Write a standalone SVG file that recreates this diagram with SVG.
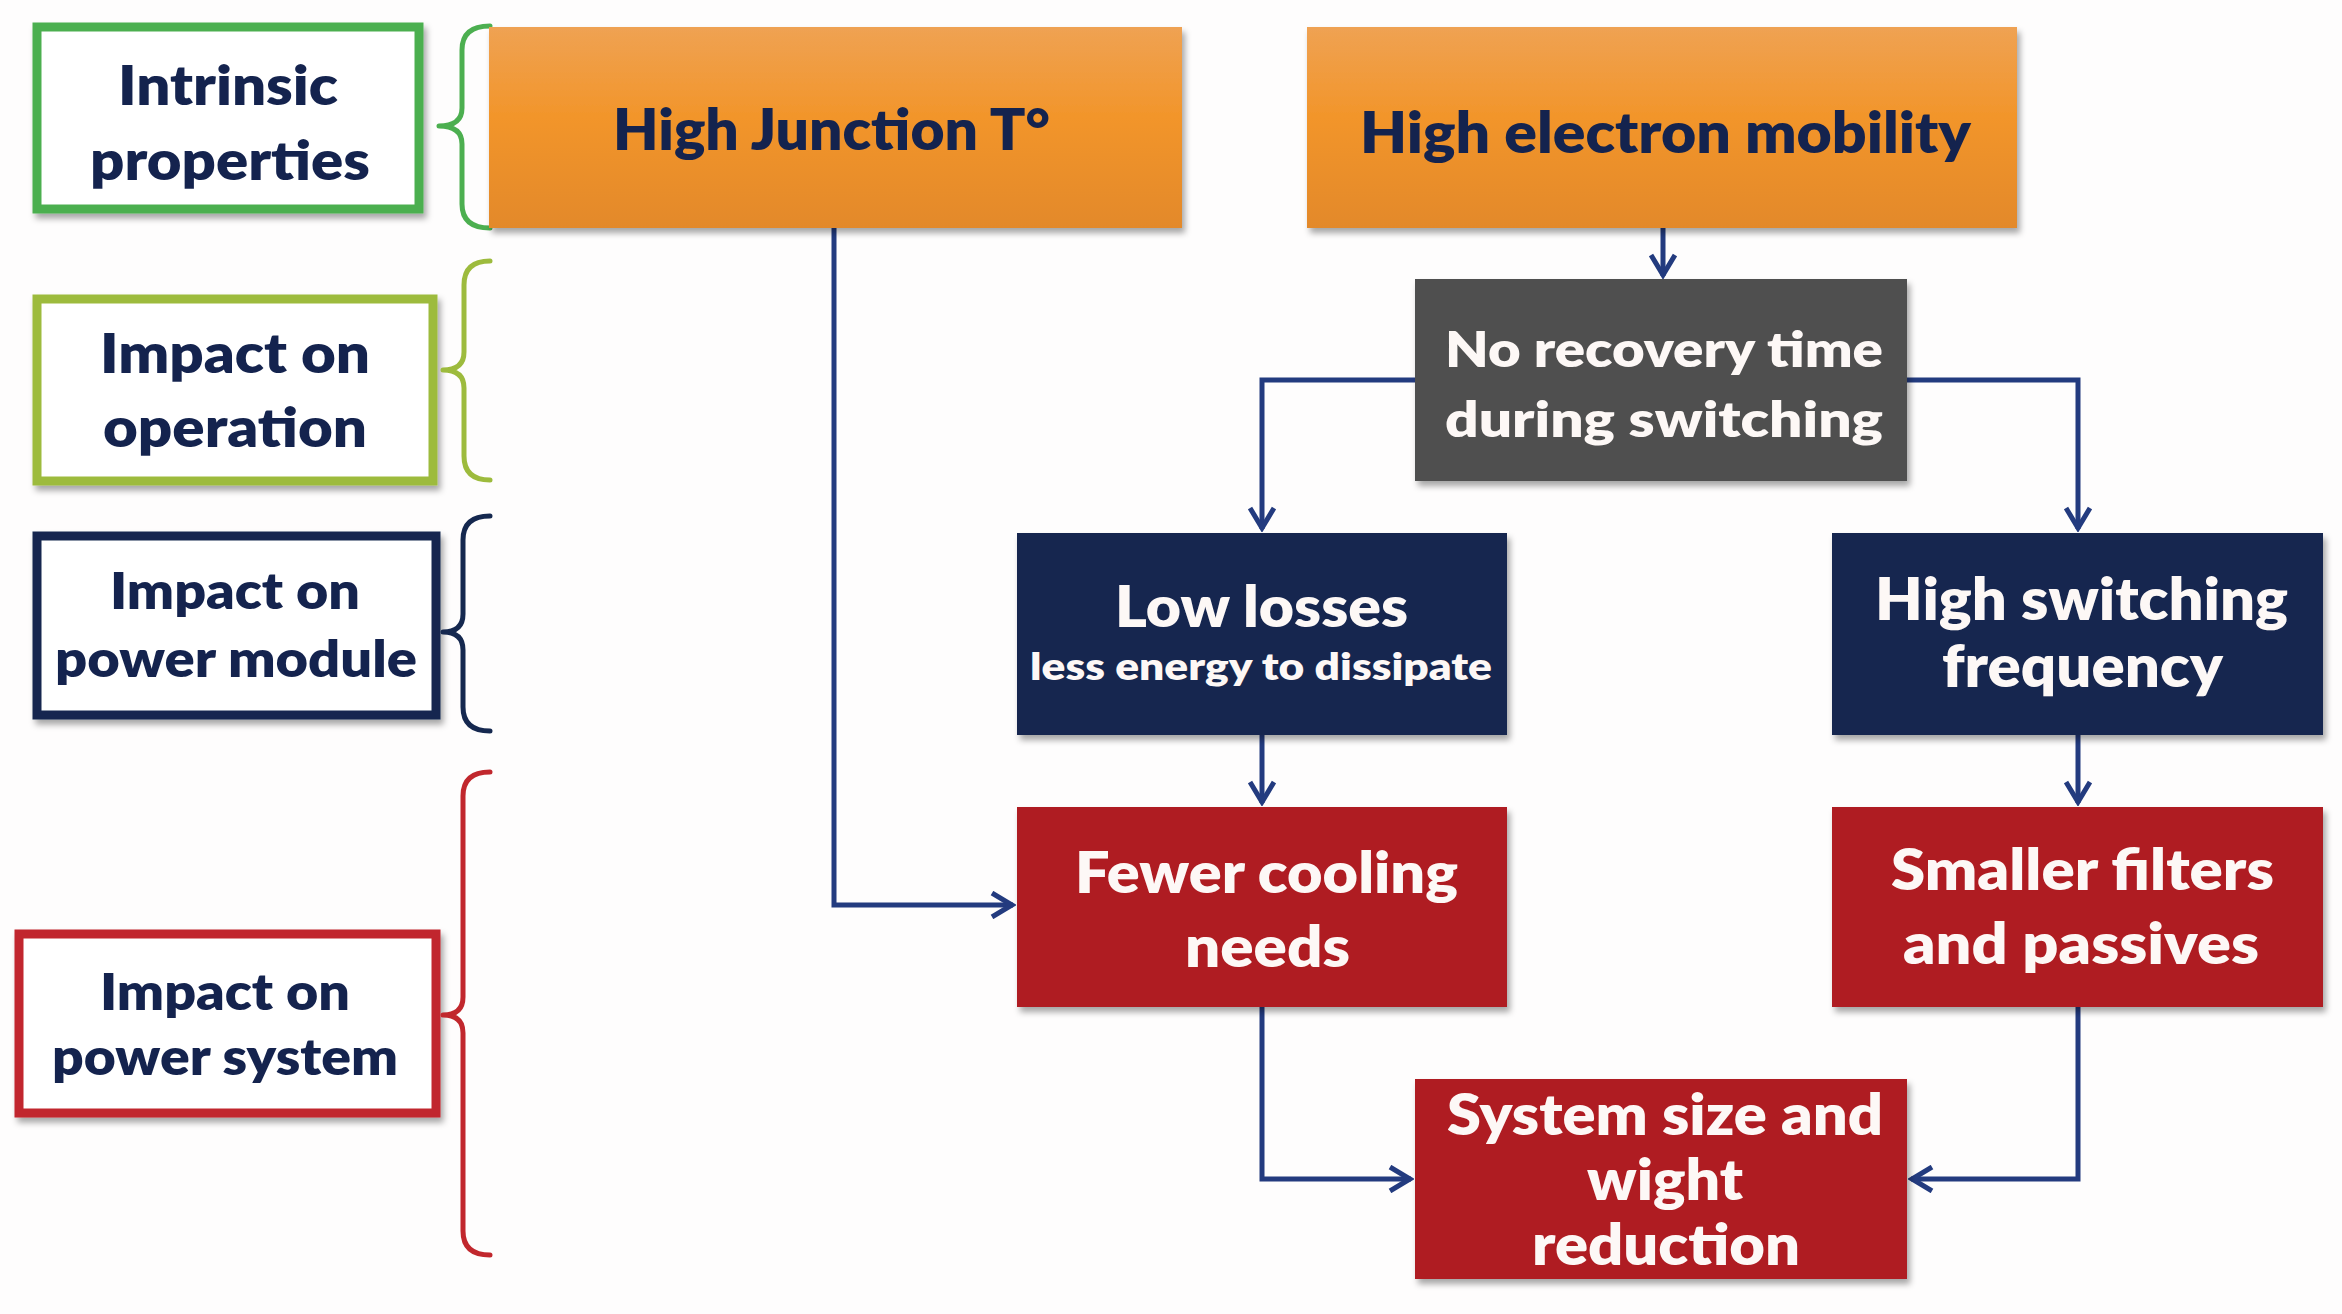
<svg xmlns="http://www.w3.org/2000/svg" width="2342" height="1314" viewBox="0 0 2342 1314">
<defs>
<style>
.t{font-family:Lato,"Open Sans","Liberation Sans",sans-serif;font-weight:800;}
.nv{fill:#14234e;}
.wh{fill:#fdf8f6;}
.leg{fill:#ffffff;stroke-width:9;}
.brace{fill:none;stroke-width:5;stroke-linecap:round;stroke-linejoin:round;}
.con{fill:none;stroke:#233b7f;stroke-width:5;stroke-linejoin:miter;}
</style>
<linearGradient id="og" x1="0" y1="0" x2="0" y2="1">
<stop offset="0" stop-color="#efa253"/>
<stop offset="0.45" stop-color="#f2952a"/>
<stop offset="1" stop-color="#e3892a"/>
</linearGradient>
<filter id="sh" x="-5%" y="-5%" width="112%" height="120%">
<feDropShadow dx="3" dy="5" stdDeviation="3" flood-color="#000" flood-opacity="0.35"/>
</filter>
<marker id="ar" markerUnits="userSpaceOnUse" viewBox="0 0 28 28" markerWidth="28" markerHeight="28" refX="25" refY="14" orient="auto">
<path d="M4,2 L24,14 L4,26" fill="none" stroke="#233b7f" stroke-width="5" stroke-linejoin="miter"/>
</marker>
</defs>
<rect width="2342" height="1314" fill="#fefdfd"/>

<g id="connectors">
<path class="con" d="M834,228 L834,905 L1013,905" marker-end="url(#ar)"/>
<path class="con" d="M1663,228 L1663,276" marker-end="url(#ar)"/>
<path class="con" d="M1415,380 L1262,380 L1262,529" marker-end="url(#ar)"/>
<path class="con" d="M1907,380 L2078,380 L2078,529" marker-end="url(#ar)"/>
<path class="con" d="M1262,735 L1262,803" marker-end="url(#ar)"/>
<path class="con" d="M2078,735 L2078,803" marker-end="url(#ar)"/>
<path class="con" d="M1262,1007 L1262,1179 L1411,1179" marker-end="url(#ar)"/>
<path class="con" d="M2078,1007 L2078,1179 L1911,1179" marker-end="url(#ar)"/>
</g>

<g id="legend-intrinsic">
<rect class="leg" x="37" y="27" width="382" height="182" stroke="#4caf50" filter="url(#sh)"/>
<text class="t nv" x="118" y="105" font-size="55" textLength="220" lengthAdjust="spacingAndGlyphs">Intrinsic</text>
<text class="t nv" x="90" y="180" font-size="55" textLength="280" lengthAdjust="spacingAndGlyphs">properties</text>
<path class="brace" stroke="#4caf50" d="M490,26 Q462,26 462,50 L462,108 Q462,126 439,126 Q462,126 462,144 L462,204 Q462,228 490,228"/>
</g>

<g id="legend-operation">
<rect class="leg" x="37" y="299" width="396" height="182" stroke="#9dbb3d" filter="url(#sh)"/>
<text class="t nv" x="100" y="373" font-size="55" textLength="270" lengthAdjust="spacingAndGlyphs">Impact on</text>
<text class="t nv" x="103" y="447" font-size="55" textLength="264" lengthAdjust="spacingAndGlyphs">operation</text>
<path class="brace" stroke="#9dbb3d" d="M490,261 Q464,261 464,285 L464,352 Q464,370 443,370 Q464,370 464,388 L464,456 Q464,480 490,480"/>
</g>

<g id="legend-module">
<rect class="leg" x="37" y="536" width="399" height="179" stroke="#15284f" filter="url(#sh)"/>
<text class="t nv" x="110" y="609" font-size="51" textLength="250" lengthAdjust="spacingAndGlyphs">Impact on</text>
<text class="t nv" x="55" y="677" font-size="51" textLength="362" lengthAdjust="spacingAndGlyphs">power module</text>
<path class="brace" stroke="#15284f" d="M490,516 Q463,516 463,540 L463,614 Q463,632 443,632 Q463,632 463,650 L463,707 Q463,731 490,731"/>
</g>

<g id="legend-system">
<rect class="leg" x="19" y="934" width="417" height="179" stroke="#c1272d" filter="url(#sh)"/>
<text class="t nv" x="100" y="1010" font-size="51" textLength="250" lengthAdjust="spacingAndGlyphs">Impact on</text>
<text class="t nv" x="52" y="1075" font-size="51" textLength="346" lengthAdjust="spacingAndGlyphs">power system</text>
<path class="brace" stroke="#c1272d" d="M490,772 Q463,772 463,796 L463,997 Q463,1015 443,1015 Q463,1015 463,1033 L463,1231 Q463,1255 490,1255"/>
</g>

<g id="node-junction">
<rect x="489" y="27" width="693" height="201" fill="url(#og)" filter="url(#sh)"/>
<text class="t nv" x="613" y="150" font-size="57" textLength="437" lengthAdjust="spacingAndGlyphs">High Junction T°</text>
</g>

<g id="node-mobility">
<rect x="1307" y="27" width="710" height="201" fill="url(#og)" filter="url(#sh)"/>
<text class="t nv" x="1360" y="153" font-size="57" textLength="611" lengthAdjust="spacingAndGlyphs">High electron mobility</text>
</g>

<g id="node-recovery">
<rect x="1415" y="279" width="492" height="202" fill="#505050" filter="url(#sh)"/>
<text class="t wh" x="1445" y="367" font-size="50" textLength="438" lengthAdjust="spacingAndGlyphs">No recovery time</text>
<text class="t wh" x="1445" y="437" font-size="50" textLength="438" lengthAdjust="spacingAndGlyphs">during switching</text>
</g>

<g id="node-losses">
<rect x="1017" y="533" width="490" height="202" fill="#192650" filter="url(#sh)"/>
<text class="t wh" x="1115" y="627" font-size="57" textLength="293" lengthAdjust="spacingAndGlyphs">Low losses</text>
<text class="t wh" x="1030" y="680" font-size="38" textLength="462" lengthAdjust="spacingAndGlyphs">less energy to dissipate</text>
</g>

<g id="node-frequency">
<rect x="1832" y="533" width="491" height="202" fill="#192650" filter="url(#sh)"/>
<text class="t wh" x="1875" y="620" font-size="58" textLength="413" lengthAdjust="spacingAndGlyphs">High switching</text>
<text class="t wh" x="1942" y="687" font-size="58" textLength="281" lengthAdjust="spacingAndGlyphs">frequency</text>
</g>

<g id="node-cooling">
<rect x="1017" y="807" width="490" height="200" fill="#af1e23" filter="url(#sh)"/>
<text class="t wh" x="1075" y="893" font-size="56" textLength="383" lengthAdjust="spacingAndGlyphs">Fewer cooling</text>
<text class="t wh" x="1185" y="967" font-size="56" textLength="165" lengthAdjust="spacingAndGlyphs">needs</text>
</g>

<g id="node-filters">
<rect x="1832" y="807" width="491" height="200" fill="#af1e23" filter="url(#sh)"/>
<text class="t wh" x="1891" y="890" font-size="56" textLength="383" lengthAdjust="spacingAndGlyphs">Smaller filters</text>
<text class="t wh" x="1903" y="964" font-size="56" textLength="356" lengthAdjust="spacingAndGlyphs">and passives</text>
</g>

<g id="node-system">
<rect x="1415" y="1079" width="492" height="200" fill="#af1e23" filter="url(#sh)"/>
<text class="t wh" x="1447" y="1135" font-size="57" textLength="436" lengthAdjust="spacingAndGlyphs">System size and</text>
<text class="t wh" x="1587" y="1200" font-size="57" textLength="156" lengthAdjust="spacingAndGlyphs">wight</text>
<text class="t wh" x="1532" y="1265" font-size="57" textLength="268" lengthAdjust="spacingAndGlyphs">reduction</text>
</g>
</svg>
